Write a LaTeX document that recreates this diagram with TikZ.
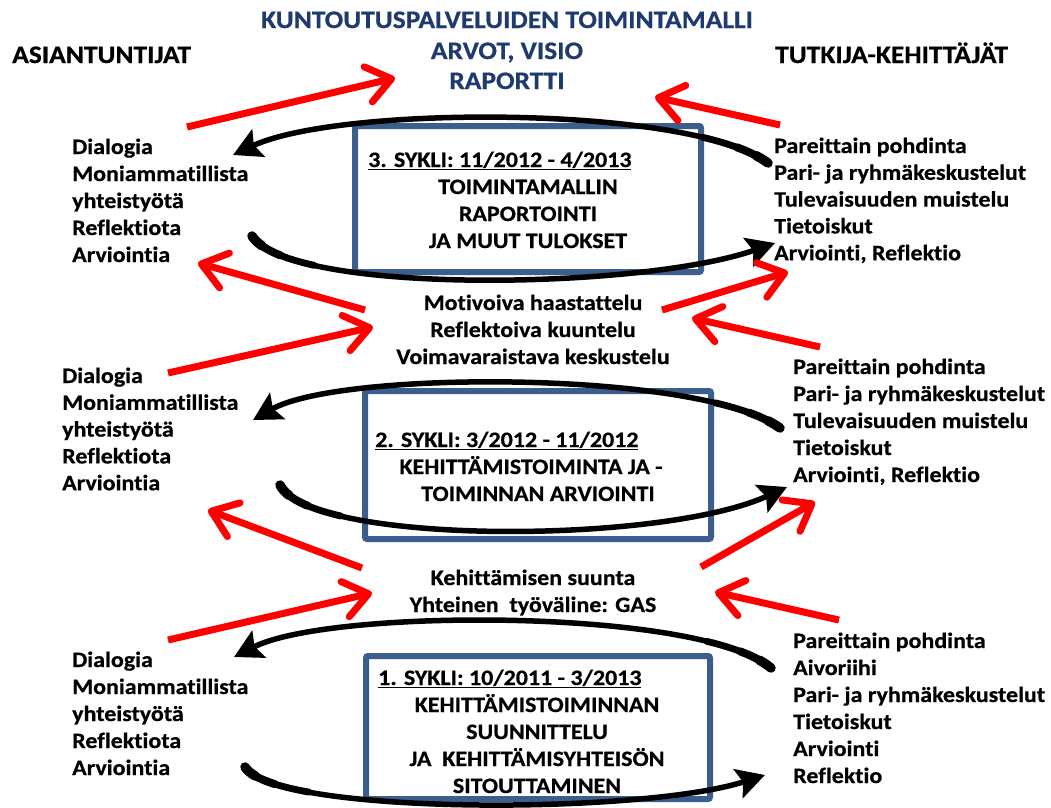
\documentclass[tikz,border=0pt]{standalone}
\usepackage{fontspec}
\setmainfont{Carlito}[FakeStretch=1.09, Ligatures=CommonOff, BoldFeatures={FakeBold=0.6}]
\usetikzlibrary{arrows.meta}
\definecolor{titleblue}{HTML}{1F3A6E}
\definecolor{boxblue}{HTML}{3B5E8C}
\begin{document}
\begin{tikzpicture}[x=1pt,y=-1pt,
  txt/.style={font=\fontsize{22}{27}\selectfont\bfseries, inner sep=0pt, anchor=base west},
  ctxt/.style={txt, anchor=base},
  hdr/.style={font=\fontsize{25.2}{30}\selectfont\bfseries, inner sep=0pt, anchor=base west},
  ttl/.style={hdr, anchor=base, text=titleblue},
  cyclebox/.style={draw=boxblue, line width=6pt, rounded corners=2pt},
  cyclearc/.style={draw=black, line width=5.5pt, -{Stealth[length=28pt,width=30pt,inset=5pt]}},
  arcstart/.style={draw=black, line width=#1, line cap=round},
  redarrow/.style={draw=red, line width=7pt, -{Straight Barb[length=24pt,width=36pt,round]}}]
\useasboundingbox (0,0) rectangle (1051,807);
\fill[white] (0,0) rectangle (1051,807);

% headers and title
\node[hdr] (hl) at (12,63) {ASIANTUNTIJAT};
\node[hdr] (hr) at (775,63) {TUTKIJA-KEHITTÄJÄT};
\node[ttl] (t1) at (507,28) {KUNTOUTUSPALVELUIDEN TOIMINTAMALLI};
\node[ttl] (t2) at (507,59) {ARVOT, VISIO};
\node[ttl] (t3) at (507,89) {RAPORTTI};

% boxes
\draw[cyclebox] (355,126) rectangle (701,272);
\draw[cyclebox] (365,391) rectangle (711,539);
\draw[cyclebox] (366,656) rectangle (710,799);

% box texts
\node[txt] (b3t) at (368,167) {\underline{3. SYKLI: 11/2012 - 4/2013}};
\node[ctxt] (b3a) at (528,194) {TOIMINTAMALLIN};
\node[ctxt] (b3b) at (528,221) {RAPORTOINTI};
\node[ctxt] (b3c) at (528,248) {JA MUUT TULOKSET};

\node[txt] (b2t) at (375,447) {\underline{2. SYKLI: 3/2012 - 11/2012}};
\node[ctxt] (b2a) at (531,474) {KEHITTÄMISTOIMINTA JA -};
\node[ctxt] (b2b) at (538,501) {TOIMINNAN ARVIOINTI};

\node[txt] (b1t) at (378,685) {\underline{1. SYKLI: 10/2011 - 3/2013}};
\node[ctxt] (b1a) at (537,712) {KEHITTÄMISTOIMINNAN};
\node[ctxt] (b1b) at (537,739) {SUUNNITTELU};
\node[ctxt] (b1c) at (537,766) {JA~~KEHITTÄMISYHTEISÖN};
\node[ctxt] (b1d) at (537,793) {SITOUTTAMINEN};

% centre texts
\node[ctxt] (m1) at (533,310) {Motivoiva haastattelu};
\node[ctxt] (m2) at (533,337) {Reflektoiva kuuntelu};
\node[ctxt] (m3) at (533,364) {Voimavaraistava keskustelu};
\node[ctxt] (k1) at (533,585) {Kehittämisen suunta};
\node[ctxt] (k2) at (533,612) {Yhteinen~ työväline: GAS};

% left lists
\foreach \t [count=\i] in {Dialogia, Moniammatillista, yhteistyötä, Reflektiota, Arviointia}{
  \node[txt] (L3-\i) at (72,{154+27*(\i-1)}) {\t};
  \node[txt] (L2-\i) at (62,{383+26.8*(\i-1)}) {\t};
  \node[txt] (L1-\i) at (72,{667+27*(\i-1)}) {\t};
}
% right lists
\foreach \t [count=\i] in {Pareittain pohdinta, Pari- ja ryhmäkeskustelut, Tulevaisuuden muistelu, Tietoiskut, {Arviointi, Reflektio}}{
  \node[txt] (R3-\i) at (774,{153+26.8*(\i-1)}) {\t};
  \node[txt] (R2-\i) at (793,{374+27*(\i-1)}) {\t};
}
\foreach \t [count=\i] in {Pareittain pohdinta, Aivoriihi, Pari- ja ryhmäkeskustelut, Tietoiskut, Arviointi, Reflektio}{
  \node[txt] (R1-\i) at (793,{648+27*(\i-1)}) {\t};
}

% cycle arcs
\coordinate (c3a) at (768,163); \coordinate (c3b) at (233,155);
\coordinate (c3c) at (252,236); \coordinate (c3d) at (775,243);
\coordinate (c2a) at (780,428); \coordinate (c2b) at (253,420);
\coordinate (c2c) at (280,485); \coordinate (c2d) at (787,487);
\coordinate (c1a) at (771,668); \coordinate (c1b) at (234,657);
\coordinate (c1c) at (245,767); \coordinate (c1d) at (765,775);
\foreach \w/\l in {9.5pt/14pt, 8pt/35pt, 6.8pt/70pt}{
  \draw[arcstart=\w, dash pattern=on \l off 3000pt] (c3a) .. controls (690,105) and (340,105) .. (c3b);
  \draw[arcstart=\w, dash pattern=on \l off 3000pt] (c3c) .. controls (290,295) and (640,290) .. (c3d);
  \draw[arcstart=\w, dash pattern=on \l off 3000pt] (c2a) .. controls (700,370) and (340,370) .. (c2b);
  \draw[arcstart=\w, dash pattern=on \l off 3000pt] (c2c) .. controls (310,545) and (660,545) .. (c2d);
  \draw[arcstart=\w, dash pattern=on \l off 3000pt] (c1a) .. controls (700,608) and (330,608) .. (c1b);
  \draw[arcstart=\w, dash pattern=on \l off 3000pt] (c1c) .. controls (275,815) and (640,815) .. (c1d);
}
\draw[cyclearc] (c3a) .. controls (690,105) and (340,105) .. (c3b);
\draw[cyclearc] (c3c) .. controls (290,295) and (640,290) .. (c3d);
\draw[cyclearc] (c2a) .. controls (700,370) and (340,370) .. (c2b);
\draw[cyclearc] (c2c) .. controls (310,545) and (660,545) .. (c2d);
\draw[cyclearc] (c1a) .. controls (700,608) and (330,608) .. (c1b);
\draw[cyclearc] (c1c) .. controls (275,815) and (640,815) .. (c1d);

% red arrows
\coordinate (r1a) at (187,127); \coordinate (r1b) at (395,78);
\coordinate (r2a) at (780,125); \coordinate (r2b) at (655,97);
\coordinate (r3a) at (365,310); \coordinate (r3b) at (198,263);
\coordinate (r4a) at (168,373); \coordinate (r4b) at (373,327);
\coordinate (r5a) at (662,310); \coordinate (r5b) at (788,272);
\coordinate (r6a) at (820,347); \coordinate (r6b) at (692,318);
\coordinate (r7a) at (362,568); \coordinate (r7b) at (208,510);
\coordinate (r8a) at (168,640); \coordinate (r8b) at (372,593);
\coordinate (r9a) at (701,567); \coordinate (r9b) at (815,502);
\coordinate (r10a) at (839,620); \coordinate (r10b) at (715,592);
\foreach \k in {1,...,10}{
  \draw[redarrow] (r\k a) -- (r\k b);
}
\end{tikzpicture}
\end{document}
